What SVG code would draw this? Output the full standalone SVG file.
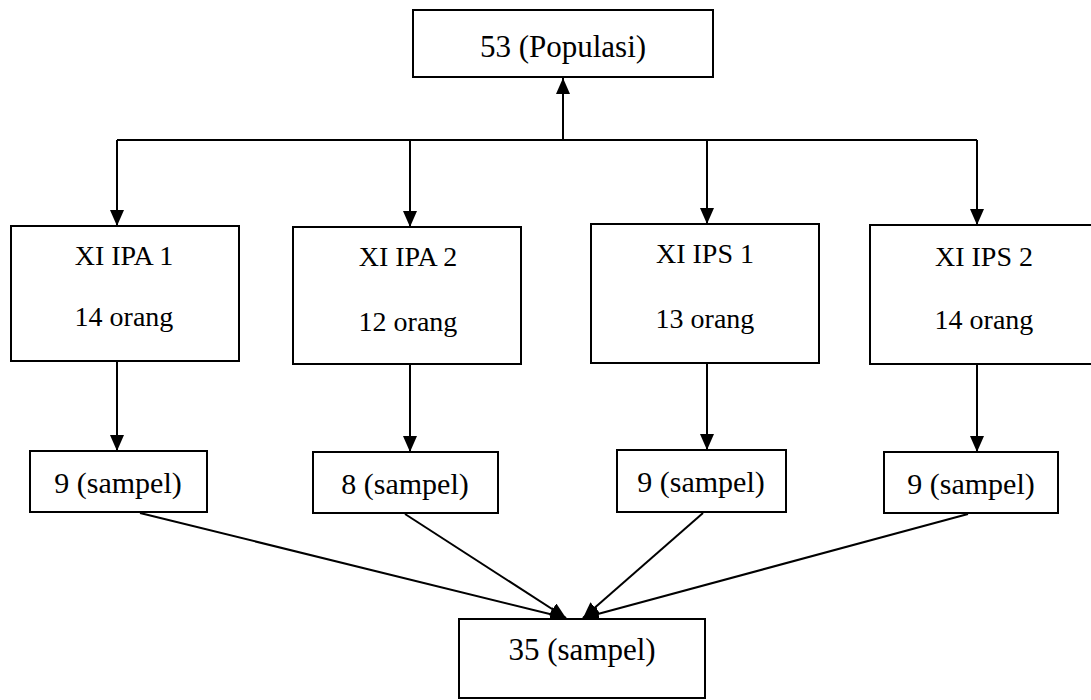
<svg xmlns="http://www.w3.org/2000/svg" width="1091" height="700" viewBox="0 0 1091 700">
<style>
.box{fill:#fff;stroke:#000;stroke-width:2}
.t{font-family:'Liberation Serif','Times New Roman',serif;fill:#000;text-anchor:middle}
.t28{font-size:28px}
.t30{font-size:30px}
.t31{font-size:31px}
.c{stroke:#000;stroke-width:2;fill:none}
</style>
<defs>
<marker id="ah" markerWidth="16" markerHeight="14" refX="16" refY="7" orient="auto" markerUnits="userSpaceOnUse">
<path d="M0,0 L16,7 L0,14 Z" fill="#000"/>
</marker>
</defs>
<rect width="1091" height="700" fill="#fff"/>
<g id="connectors">
<line class="c" x1="563" y1="140" x2="563" y2="78" marker-end="url(#ah)"/>
<line class="c" x1="117" y1="140" x2="977" y2="140"/>
<line class="c" x1="117" y1="140" x2="117" y2="226" marker-end="url(#ah)"/>
<line class="c" x1="410" y1="140" x2="410" y2="227" marker-end="url(#ah)"/>
<line class="c" x1="707" y1="140" x2="707" y2="224" marker-end="url(#ah)"/>
<line class="c" x1="977" y1="140" x2="977" y2="225" marker-end="url(#ah)"/>
<line class="c" x1="117" y1="362" x2="117" y2="451" marker-end="url(#ah)"/>
<line class="c" x1="410" y1="365" x2="410" y2="452" marker-end="url(#ah)"/>
<line class="c" x1="707" y1="364" x2="707" y2="450" marker-end="url(#ah)"/>
<line class="c" x1="977" y1="365" x2="977" y2="452" marker-end="url(#ah)"/>
<line class="c" x1="140" y1="513" x2="566" y2="618" marker-end="url(#ah)"/>
<line class="c" x1="405" y1="514" x2="566" y2="618" marker-end="url(#ah)"/>
<line class="c" x1="703" y1="513" x2="583" y2="618" marker-end="url(#ah)"/>
<line class="c" x1="968" y1="514" x2="583" y2="618" marker-end="url(#ah)"/>
</g>
<g id="populasi">
<rect class="box" x="413" y="10" width="300" height="67"/>
<text class="t t31" x="563" y="57">53 (Populasi)</text>
</g>
<g id="ipa1">
<rect class="box" x="11" y="226" width="228" height="135"/>
<text class="t t28" x="124" y="265">XI IPA 1</text>
<text class="t t28" x="124" y="326">14 orang</text>
</g>
<g id="ipa2">
<rect class="box" x="293" y="227" width="228" height="137"/>
<text class="t t28" x="408" y="266">XI IPA 2</text>
<text class="t t28" x="408" y="331">12 orang</text>
</g>
<g id="ips1">
<rect class="box" x="591" y="224" width="228" height="139"/>
<text class="t t28" x="705" y="263">XI IPS 1</text>
<text class="t t28" x="705" y="328">13 orang</text>
</g>
<g id="ips2">
<rect class="box" x="870" y="225" width="230" height="139"/>
<text class="t t28" x="984" y="266">XI IPS 2</text>
<text class="t t28" x="984" y="329">14 orang</text>
</g>
<g id="s1">
<rect class="box" x="30" y="451" width="177" height="61"/>
<text class="t t30" x="118" y="493">9 (sampel)</text>
</g>
<g id="s2">
<rect class="box" x="313" y="452" width="185" height="61"/>
<text class="t t30" x="405" y="494">8 (sampel)</text>
</g>
<g id="s3">
<rect class="box" x="617" y="450" width="169" height="62"/>
<text class="t t30" x="701" y="492">9 (sampel)</text>
</g>
<g id="s4">
<rect class="box" x="884" y="452" width="174" height="61"/>
<text class="t t30" x="971" y="494">9 (sampel)</text>
</g>
<g id="total">
<rect class="box" x="459" y="619" width="246" height="79"/>
<text class="t t31" x="582" y="660">35 (sampel)</text>
</g>
</svg>
